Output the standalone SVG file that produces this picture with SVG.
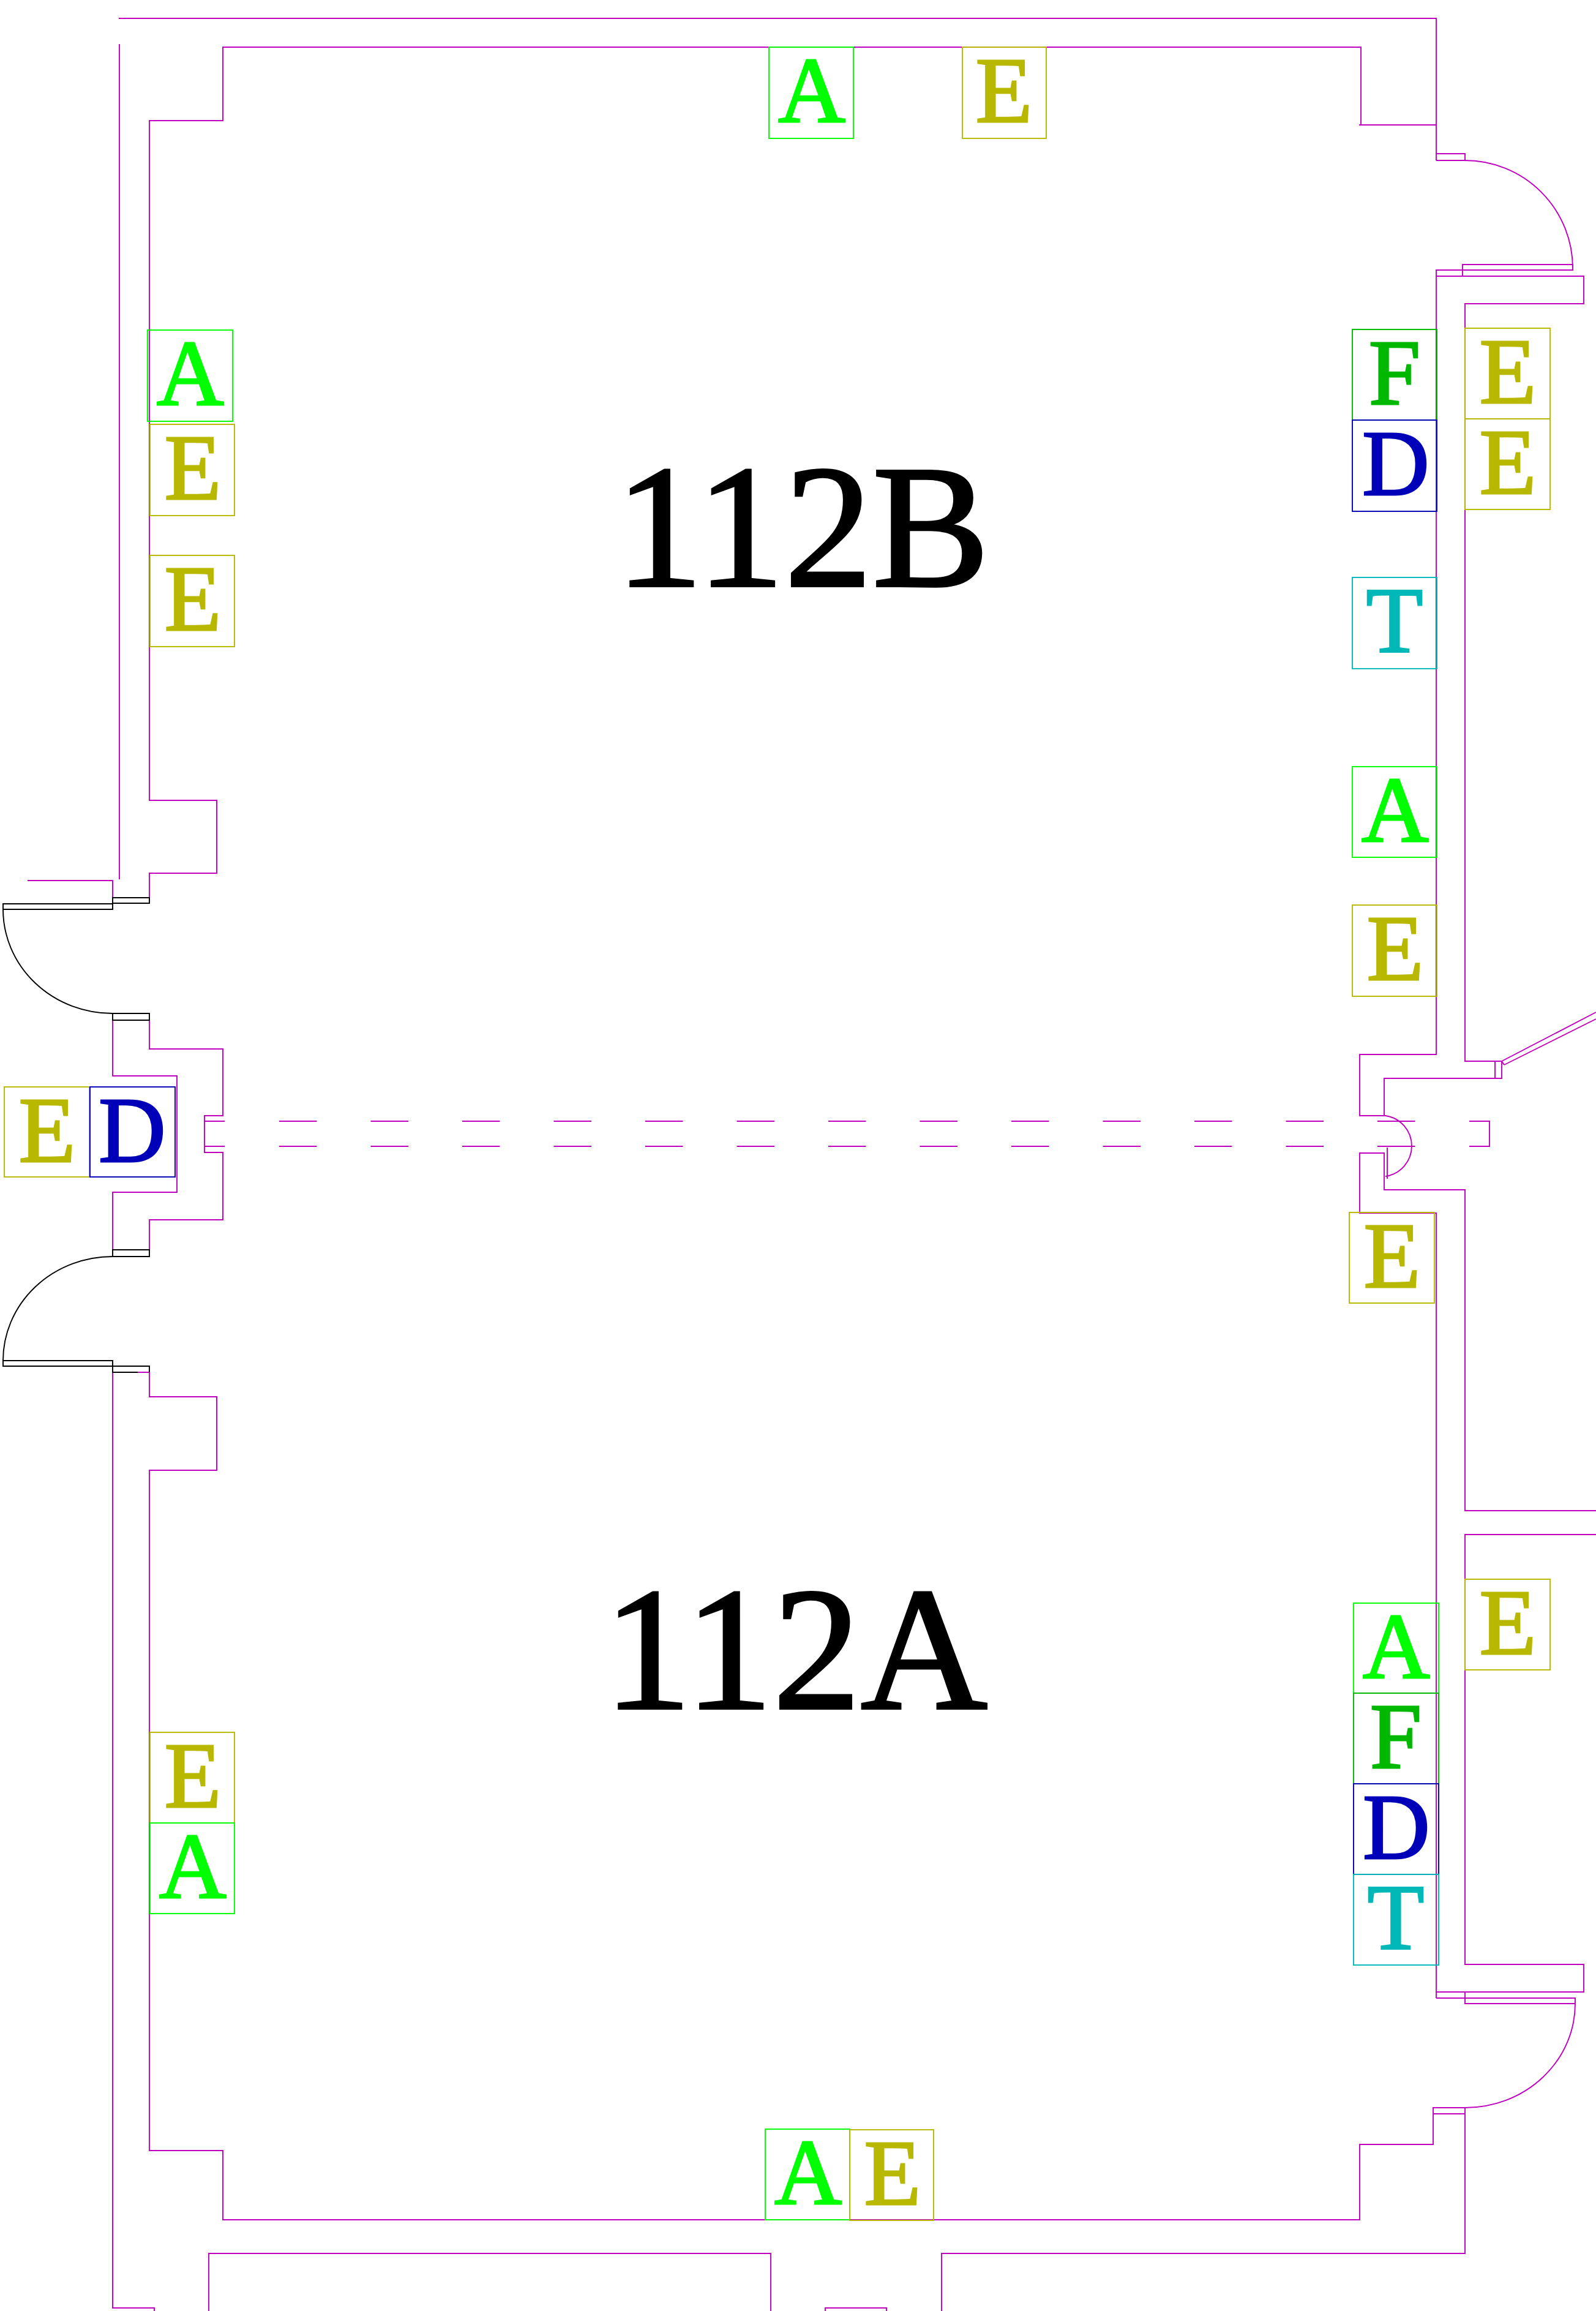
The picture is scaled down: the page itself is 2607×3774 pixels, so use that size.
<svg xmlns="http://www.w3.org/2000/svg" width="2607" height="3774" viewBox="0 0 2607 3774">
<style>
.w{fill:none;stroke:#bf00bf;stroke-width:1.9}
.k{fill:none;stroke:#000;stroke-width:1.9}
.b{fill:none;stroke-width:1.9}
.l{font-family:"Liberation Serif","Times New Roman",serif;font-size:152px;text-anchor:middle;stroke-width:3}
.r{font-family:"Liberation Serif","Times New Roman",serif;font-size:287px;fill:#000;stroke:#000;stroke-width:4}
.A rect{stroke:#00ff00}.A text{fill:#00ff00;stroke:#00ff00}
.E rect{stroke:#b8b800}.E text{fill:#b8b800;stroke:#b8b800}
.F rect{stroke:#00b800}.F text{fill:#00b800;stroke:#00b800}
.D rect{stroke:#0000b8}.D text{fill:#0000b8;stroke:#0000b8}
.T rect{stroke:#00b8b8}.T text{fill:#00b8b8;stroke:#00b8b8}
</style>
<rect width="2607" height="3774" fill="#fff"/>
<g id="walls">
<path class="w" d="M194 30H2346V262"/>
<path class="w" d="M195 72V1436"/>
<path class="w" d="M2220 204H2346M2223 204V77H364V197H244V1307H354V1426H244V1466"/>
<path class="w" d="M45 1438H184V1466"/>
<path class="w" d="M2346 262H2393V251H2346"/>
<path class="w" d="M2393 262A176 176 0 0 1 2569 438"/>
<path class="w" d="M2389 451V432H2569V441H2346V1722H2221V1822H2261V1761H2453V1733H2393V496H2587V451H2346"/>
<path class="w" d="M2442 1733V1761"/>
<path class="w" d="M2453 1733L2607 1653M2457 1739L2607 1664M2453 1733L2457 1739"/>
<path class="w" d="M2261 1822H2263A50 50 0 0 1 2263 1921"/>
<path class="w" d="M2266 1874V1925"/>
<path class="w" d="M2221 1982V1883H2261V1943H2393V2467H2607"/>
<path class="w" d="M2221 1981H2346V3263"/>
<path class="w" d="M2607 2506H2393V3208H2587V3253H2346"/>
<path class="w" d="M2346 3263H2573V3272H2393V3253"/>
<path class="w" d="M2573 3272A180 170 0 0 1 2393 3442"/>
<path class="w" d="M2393 3442H2341V3502H2221V3625H364V3512H244V2401H354V2281H244V2241H225"/>
<path class="w" d="M2341 3452H2393M2393 3442V3680H1538V3774"/>
<path class="w" d="M341 3774V3680H1259V3774"/>
<path class="w" d="M1348 3774V3769H1448V3774"/>
<path class="w" d="M184 2241V3769H252V3774"/>
<path class="w" d="M244 1466V1475M184 1666V1757H289V1947H184V2041M244 1666V1713H364V1822H334V1882H364V1992H244V2041"/>
<path class="w" d="M334 1831H367M334 1872H367"/>
<path class="w" stroke-dasharray="61.5 88" d="M456 1831H2312M456 1872H2312"/>
<path class="w" d="M2400 1831H2433V1872H2400"/>
</g>
<g id="doors">
<path class="k" d="M184 1466H244V1475H184ZM5 1476H184V1485H5Z"/>
<path class="k" d="M5 1485A179 170 0 0 0 184 1655"/>
<path class="k" d="M184 1655H244V1666H184Z"/>
<path class="k" d="M184 2041H244V2052H184Z"/>
<path class="k" d="M184 2052A179 170 0 0 0 5 2222"/>
<path class="k" d="M5 2222H184V2231H5Z"/>
<path class="k" d="M184 2231H244V2241M184 2231V2241H225"/>
</g>
<g id="label-112B"><text class="r" x="1005" y="957">112B</text></g>
<g id="label-112A"><text class="r" x="986" y="2790">112A</text></g>
<g id="n1" class="A"><rect class="b" x="1256" y="77" width="138" height="149"/><text class="l" x="1326" y="199">A</text></g>
<g id="n2" class="E"><rect class="b" x="1572" y="77" width="137" height="149"/><text class="l" x="1640" y="199">E</text></g>
<g id="n3" class="A"><rect class="b" x="241" y="539" width="139" height="149"/><text class="l" x="311" y="661">A</text></g>
<g id="n4" class="E"><rect class="b" x="245" y="693" width="138" height="149"/><text class="l" x="315" y="815">E</text></g>
<g id="n5" class="E"><rect class="b" x="245" y="907" width="138" height="149"/><text class="l" x="315" y="1029">E</text></g>
<g id="n6" class="F"><rect class="b" x="2209" y="538" width="138" height="148"/><text class="l" x="2278" y="660">F</text></g>
<g id="n7" class="D"><rect class="b" x="2209" y="686" width="138" height="149"/><text class="l" x="2280" y="808">D</text></g>
<g id="n8" class="T"><rect class="b" x="2209" y="943" width="138" height="149"/><text class="l" x="2278" y="1065">T</text></g>
<g id="n9" class="A"><rect class="b" x="2209" y="1252" width="138" height="148"/><text class="l" x="2279" y="1374">A</text></g>
<g id="n10" class="E"><rect class="b" x="2209" y="1478" width="138" height="149"/><text class="l" x="2279" y="1600">E</text></g>
<g id="n11" class="E"><rect class="b" x="2393" y="536" width="139" height="148"/><text class="l" x="2463" y="658">E</text></g>
<g id="n12" class="E"><rect class="b" x="2393" y="684" width="139" height="148"/><text class="l" x="2463" y="806">E</text></g>
<g id="n13" class="E"><rect class="b" x="7" y="1775" width="139" height="147"/><text class="l" x="77" y="1897">E</text></g>
<g id="n14" class="D"><rect class="b" x="147" y="1775" width="139" height="147"/><text class="l" x="216" y="1897">D</text></g>
<g id="n15" class="E"><rect class="b" x="2204" y="1980" width="139" height="148"/><text class="l" x="2274" y="2102">E</text></g>
<g id="n16" class="E"><rect class="b" x="2393" y="2579" width="139" height="148"/><text class="l" x="2463" y="2701">E</text></g>
<g id="n17" class="A"><rect class="b" x="2211" y="2618" width="139" height="147"/><text class="l" x="2281" y="2740">A</text></g>
<g id="n18" class="F"><rect class="b" x="2211" y="2765" width="139" height="148"/><text class="l" x="2280" y="2887">F</text></g>
<g id="n19" class="D"><rect class="b" x="2211" y="2913" width="139" height="148"/><text class="l" x="2281" y="3035">D</text></g>
<g id="n20" class="T"><rect class="b" x="2211" y="3061" width="139" height="148"/><text class="l" x="2280" y="3183">T</text></g>
<g id="n21" class="E"><rect class="b" x="245" y="2829" width="138" height="148"/><text class="l" x="315" y="2951">E</text></g>
<g id="n22" class="A"><rect class="b" x="245" y="2977" width="138" height="148"/><text class="l" x="315" y="3099">A</text></g>
<g id="n23" class="A"><rect class="b" x="1250" y="3477" width="138" height="148"/><text class="l" x="1320" y="3599">A</text></g>
<g id="n24" class="E"><rect class="b" x="1388" y="3478" width="137" height="148"/><text class="l" x="1458" y="3600">E</text></g>
</svg>
